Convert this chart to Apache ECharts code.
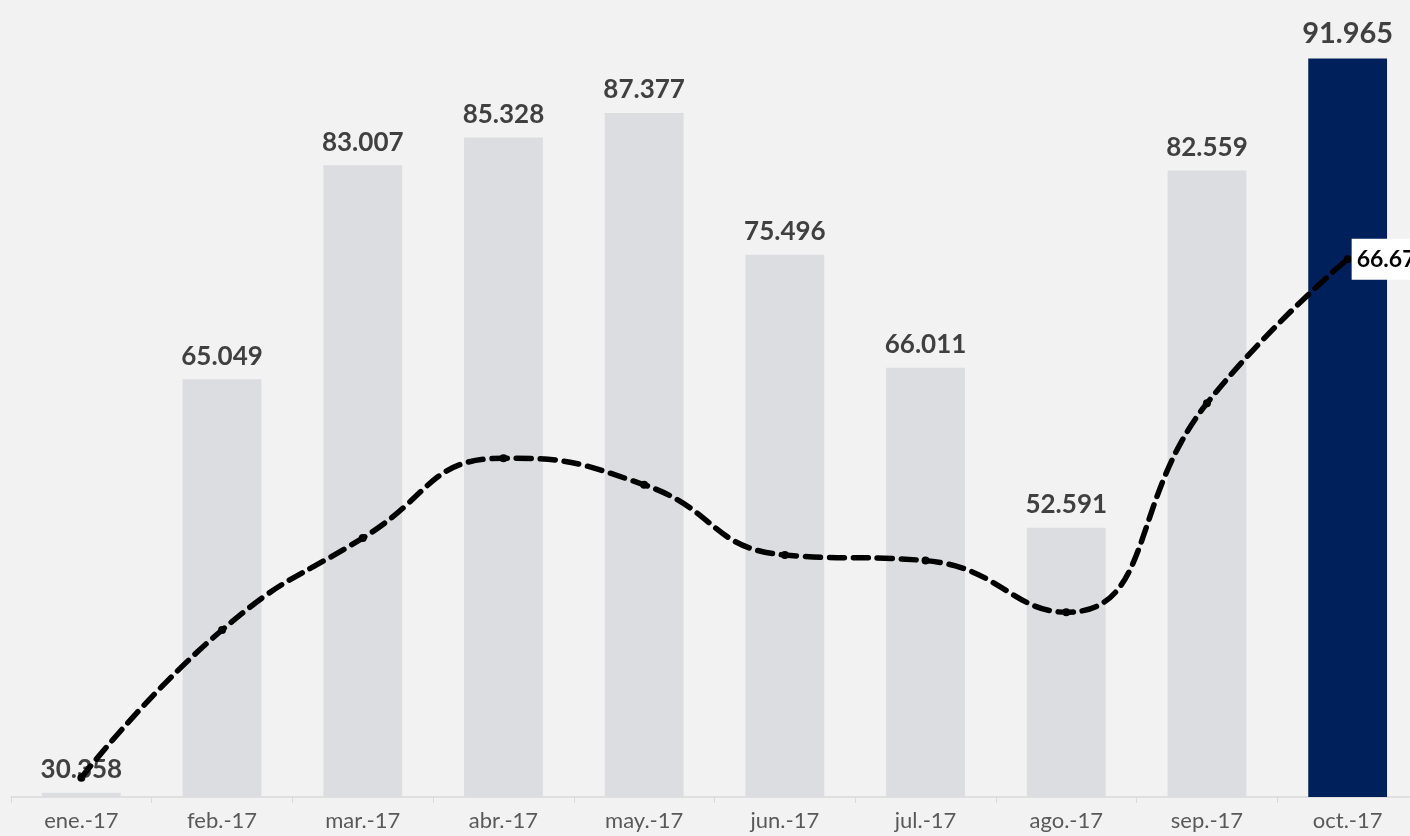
<!DOCTYPE html>
<html>
<head>
	<meta charset="utf-8">
	<title>ventas 2017</title>
	<script src="https://cdn.jsdelivr.net/npm/echarts@6/dist/echarts.min.js"></script>
	<style>
		html, body { margin: 0; padding: 0; background: #f2f2f2; overflow: hidden; }
	</style>
</head>
<body>
	<div id="main" style="width: 1418px;height: 836px;"></div>
</body>
<script type="text/javascript">
	var meses = ['ene.-17', 'feb.-17', 'mar.-17', 'abr.-17', 'may.-17', 'jun.-17', 'jul.-17', 'ago.-17', 'sep.-17', 'oct.-17'];
	var barras = [30358, 65049, 83007, 85328, 87377, 75496, 66011, 52591, 82559, 91965];
	// tendencia (eje secundario)
	var linea = [2.4, 20.7, 32.1, 42.0, 38.7, 30.0, 29.3, 22.9, 48.8, 66.67];

	function miles(v) {
		var s = String(Math.round(v));
		return s.replace(/\B(?=(\d{3})+(?!\d))/g, '.');
	}

	var colores = barras.map(function (v, i) {
		return i === barras.length - 1 ? '#00205b' : '#dcdde1';
	});

	var myChart = echarts.init(document.getElementById('main'));
	var option = {
		backgroundColor: '#f2f2f2',
		animation: false,
		grid: { left: 11, top: 58, right: 0, bottom: 39, containLabel: false },
		xAxis: {
			type: 'category',
			data: meses,
			axisLine: { lineStyle: { color: '#d9d9d9', width: 1.5 } },
			axisTick: { show: true, length: 6, lineStyle: { color: '#d9d9d9' } },
			axisLabel: { color: '#595959', fontSize: 22, fontFamily: 'Lato', margin: 13 }
		},
		yAxis: [{
			type: 'value', min: 30000, max: 92000, show: false, splitLine: { show: false }
		}, {
			type: 'value', min: 0, max: 91.6, show: false, splitLine: { show: false }
		}],
		series: [{
			name: 'ventas',
			type: 'bar',
			barWidth: '56%',
			data: barras.map(function (v, i) {
				var item = { value: v, itemStyle: { color: colores[i] } };
				if (i === barras.length - 1) {
					item.label = { fontSize: 29 };
				}
				return item;
			}),
			label: {
				show: true,
				position: 'top',
				distance: 10,
				color: '#404040',
				fontWeight: 'bold',
				fontSize: 26,
				fontFamily: 'Lato',
				formatter: function (p) { return miles(p.value); }
			}
		}, {
			name: 'tendencia',
			type: 'line',
			yAxisIndex: 1,
			smooth: 0.5,
			symbol: 'circle',
			symbolSize: 8,
			itemStyle: { color: '#000' },
			lineStyle: { color: '#000', width: 5.5, type: [15, 9], cap: 'round' },
			data: linea.map(function (v, i) {
				if (i === linea.length - 1) {
					return {
						value: v,
						label: {
							show: true,
							position: 'right',
							distance: 0,
							backgroundColor: '#ffffff',
							padding: [9, 6, 9, 5],
							color: '#000',
							fontWeight: 'bold',
							fontSize: 23,
							fontFamily: 'Lato',
							formatter: function (p) { return p.value.toFixed(2); }
						}
					};
				}
				return v;
			})
		}]
	};
	myChart.setOption(option);
</script>
</html>
